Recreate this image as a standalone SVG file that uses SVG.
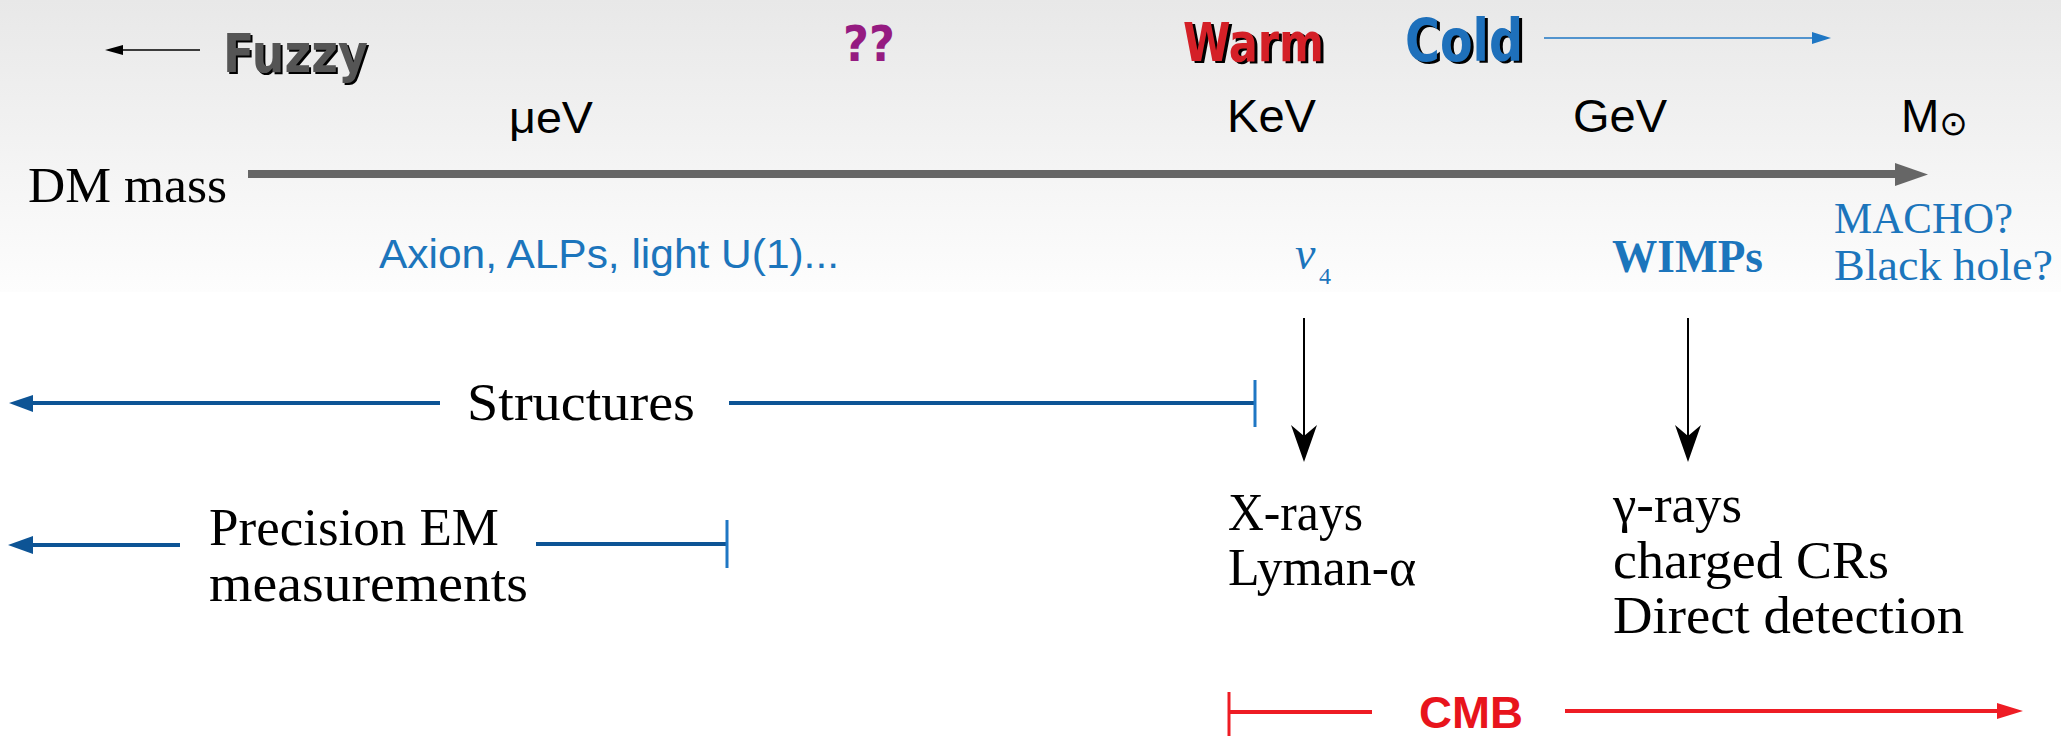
<svg xmlns="http://www.w3.org/2000/svg" width="2061" height="736" viewBox="0 0 2061 736">
  <style>
    .serif { font-family: "Liberation Serif", "DejaVu Serif", serif; fill: #000; }
    .sans { font-family: "Liberation Sans", Arial, sans-serif; fill: #000; }
    .blue { fill: #1c75bc; }
    .hand { font-family: "DejaVu Sans Condensed", "DejaVu Sans", sans-serif; font-weight: bold; }
    .thin { stroke: #000; stroke-width: 1.6; fill: none; }
    .range { stroke: #0d5495; stroke-width: 4; fill: none; }
    .bar { stroke: #1f77c4; stroke-width: 3; fill: none; }
    .cmb { stroke: #ee1c24; stroke-width: 4; fill: none; }
  </style>
  <defs>
    <linearGradient id="bg" x1="0" y1="0" x2="0" y2="1">
      <stop offset="0" stop-color="#e8e8e8"/>
      <stop offset="1" stop-color="#fdfdfd"/>
    </linearGradient>
  </defs>

  <!-- backdrop -->
  <rect width="2061" height="736" fill="#fff"/>
  <rect width="2061" height="292" fill="url(#bg)"/>

  <!-- mass axis -->
  <g id="axis">
    <line x1="248" y1="174" x2="1897" y2="174" stroke="#666" stroke-width="8"/>
    <polygon points="1895,163 1928,174.5 1895,186" fill="#666"/>
    <text class="serif" x="28" y="202" font-size="51" textLength="199" lengthAdjust="spacingAndGlyphs">DM mass</text>
  </g>

  <!-- scale labels -->
  <g id="scale-ueV"><text class="sans" x="509" y="133" font-size="45" textLength="84" lengthAdjust="spacingAndGlyphs">μeV</text></g>
  <g id="scale-KeV"><text class="sans" x="1227" y="132" font-size="46" textLength="89" lengthAdjust="spacingAndGlyphs">KeV</text></g>
  <g id="scale-GeV"><text class="sans" x="1573" y="132" font-size="46" textLength="94" lengthAdjust="spacingAndGlyphs">GeV</text></g>
  <g id="scale-Msun"><text class="sans" x="1901" y="132" font-size="46">M<tspan font-family="DejaVu Sans, sans-serif" font-size="34" dy="3">⊙</tspan></text></g>

  <!-- regime labels -->
  <g id="fuzzy">
    <text class="hand" x="225" y="74" font-size="54" fill="#000" textLength="145" lengthAdjust="spacingAndGlyphs">Fuzzy</text>
    <text class="hand" x="223" y="72" font-size="54" fill="#555" textLength="145" lengthAdjust="spacingAndGlyphs">Fuzzy</text>
  </g>
  <g id="unknown">
    <text x="843" y="61" font-family="DejaVu Sans, sans-serif" font-weight="bold" font-size="49" fill="#951b81" textLength="52" lengthAdjust="spacingAndGlyphs">??</text>
  </g>
  <g id="warm">
    <text class="hand" x="1186" y="63" font-size="54" fill="#000" textLength="141" lengthAdjust="spacingAndGlyphs">Warm</text>
    <text class="hand" x="1183" y="61" font-size="54" fill="#d42027" textLength="141" lengthAdjust="spacingAndGlyphs">Warm</text>
  </g>
  <g id="cold">
    <text class="hand" x="1408" y="63" font-size="58" fill="#000" textLength="118" lengthAdjust="spacingAndGlyphs">Cold</text>
    <text class="hand" x="1405" y="61" font-size="58" fill="#1e70bb" textLength="118" lengthAdjust="spacingAndGlyphs">Cold</text>
  </g>

  <!-- candidates -->
  <g id="light-candidates">
    <text class="sans blue" x="379" y="268" font-size="40" textLength="460" lengthAdjust="spacingAndGlyphs">Axion, ALPs, light U(1)...</text>
  </g>
  <g id="sterile-nu">
    <text class="serif blue" x="1295" y="269" font-size="46" font-style="italic">ν</text>
    <text class="serif blue" x="1319" y="284" font-size="24">4</text>
  </g>
  <g id="wimps">
    <text class="serif blue" x="1612" y="272" font-size="46" font-weight="bold" textLength="151" lengthAdjust="spacingAndGlyphs">WIMPs</text>
  </g>
  <g id="macho">
    <text class="serif blue" x="1834" y="233" font-size="45" textLength="179" lengthAdjust="spacingAndGlyphs">MACHO?</text>
    <text class="serif blue" x="1834" y="280" font-size="45" textLength="219" lengthAdjust="spacingAndGlyphs">Black hole?</text>
  </g>

  <!-- probes -->
  <g id="structures">
    <text class="serif" x="467" y="420" font-size="53" textLength="228" lengthAdjust="spacingAndGlyphs">Structures</text>
  </g>
  <g id="precision-em">
    <text class="serif" x="209" y="545" font-size="53" textLength="290" lengthAdjust="spacingAndGlyphs">Precision EM</text>
    <text class="serif" x="209" y="601" font-size="53" textLength="319" lengthAdjust="spacingAndGlyphs">measurements</text>
  </g>
  <g id="xray-probes">
    <text class="serif" x="1228" y="530" font-size="52" textLength="135" lengthAdjust="spacingAndGlyphs">X-rays</text>
    <text class="serif" x="1228" y="585" font-size="52" textLength="188" lengthAdjust="spacingAndGlyphs">Lyman-α</text>
  </g>
  <g id="wimp-probes">
    <text class="serif" x="1613" y="522" font-size="52" textLength="129" lengthAdjust="spacingAndGlyphs">γ-rays</text>
    <text class="serif" x="1613" y="578" font-size="52" textLength="276" lengthAdjust="spacingAndGlyphs">charged CRs</text>
    <text class="serif" x="1613" y="633" font-size="52" textLength="351" lengthAdjust="spacingAndGlyphs">Direct detection</text>
  </g>
  <g id="cmb">
    <text x="1419" y="728" font-family="Liberation Sans, Arial, sans-serif" font-weight="bold" font-size="44" fill="#e8141c" textLength="104" lengthAdjust="spacingAndGlyphs">CMB</text>
  </g>

  <!-- connectors -->
  <g id="connectors">
    <!-- fuzzy direction -->
    <line class="thin" x1="120" y1="50" x2="200" y2="50"/>
    <polygon points="105,50 123,45 123,55" fill="#000"/>
    <!-- cold direction -->
    <line x1="1544" y1="38" x2="1814" y2="38" stroke="#1f77c4" stroke-width="1.6"/>
    <polygon points="1812,32 1831,38 1812,44" fill="#1f77c4"/>

    <!-- structures range -->
    <line class="range" x1="30" y1="403" x2="440" y2="403"/>
    <polygon points="9,403 33,395 33,412" fill="#0d5495"/>
    <line class="range" x1="729" y1="403" x2="1255" y2="403"/>
    <line class="bar" x1="1255" y1="380" x2="1255" y2="427"/>

    <!-- precision EM range -->
    <line class="range" x1="30" y1="545" x2="180" y2="545"/>
    <polygon points="8,545 33,536 33,554" fill="#0d5495"/>
    <line class="range" x1="536" y1="544" x2="727" y2="544"/>
    <line class="bar" x1="727" y1="520" x2="727" y2="568"/>

    <!-- candidate to probe arrows -->
    <line x1="1304" y1="318" x2="1304" y2="440" stroke="#000" stroke-width="2"/>
    <polygon points="1304,462 1291,425 1304,436 1317,425" fill="#000"/>
    <line x1="1688" y1="318" x2="1688" y2="440" stroke="#000" stroke-width="2"/>
    <polygon points="1688,462 1675,425 1688,436 1701,425" fill="#000"/>

    <!-- CMB range -->
    <line x1="1229" y1="692" x2="1229" y2="736" stroke="#ee1c24" stroke-width="3"/>
    <line class="cmb" x1="1229" y1="712" x2="1372" y2="712"/>
    <line class="cmb" x1="1565" y1="711" x2="2000" y2="711"/>
    <polygon points="1997,703 2023,711 1997,719" fill="#ee1c24"/>
  </g>
</svg>
